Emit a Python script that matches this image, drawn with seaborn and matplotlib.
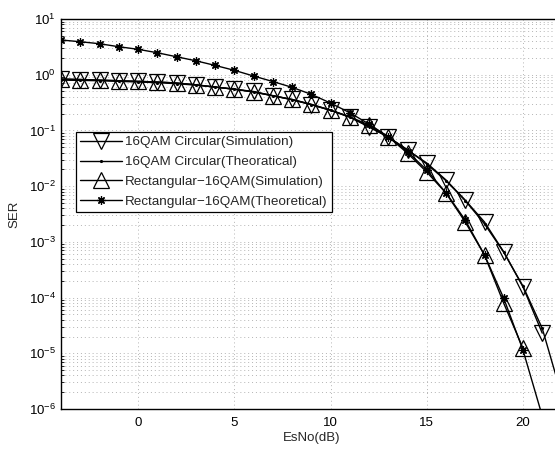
import numpy as np
import pandas as pd
import matplotlib
matplotlib.use("Agg")
import matplotlib.pyplot as plt
import seaborn as sns
from matplotlib.ticker import LogLocator, FixedLocator, NullFormatter

# ---- data ----
x_circ_sim = list(range(-4, 22))
circ_sim = [0.83, 0.82, 0.80, 0.78, 0.76, 0.74, 0.71, 0.66, 0.60, 0.55, 0.50, 0.42,
            0.36, 0.29, 0.23, 0.175, 0.115, 0.076, 0.0445, 0.026, 0.0129, 0.0056,
            0.00227, 6.6e-4, 1.55e-4, 2.3e-5]

x_circ_th = list(range(-4, 23))
circ_th = [0.80, 0.79, 0.78, 0.76, 0.74, 0.72, 0.69, 0.65, 0.60, 0.55, 0.49, 0.42,
           0.355, 0.29, 0.23, 0.172, 0.118, 0.076, 0.045, 0.025, 0.0125, 0.0055,
           0.0021, 6.5e-4, 1.6e-4, 2.8e-5, 1.8e-6]

x_rect_sim = list(range(-4, 21))
rect_sim = [0.84, 0.82, 0.80, 0.78, 0.76, 0.74, 0.71, 0.66, 0.60, 0.55, 0.49, 0.42,
            0.36, 0.295, 0.232, 0.176, 0.125, 0.077, 0.039, 0.0179, 0.0075, 0.00227,
            5.8e-4, 7.9e-5, 1.23e-5]

x_rect_th = list(range(-4, 23))
rect_th = [4.2, 3.91, 3.6, 3.18, 2.86, 2.48, 2.10, 1.78, 1.47, 1.20, 0.948, 0.755,
           0.594, 0.445, 0.310, 0.208, 0.130, 0.077, 0.0415, 0.0195, 0.0076, 0.00246,
           5.8e-4, 9.7e-5, 1.14e-5, 7.5e-7, 3e-8]

labels = ["16QAM Circular(Simulation)", "16QAM Circular(Theoratical)",
          "Rectangular\u221216QAM(Simulation)", "Rectangular\u221216QAM(Theoretical)"]
x_ticks = [0, 5, 10, 15, 20]

sns.set_theme(style="white")
plt.rcParams["font.family"] = ["Liberation Sans", "DejaVu Sans"]
plt.rcParams["mathtext.fontset"] = "custom"
plt.rcParams["mathtext.rm"] = "Liberation Sans"
plt.rcParams["mathtext.it"] = "Liberation Sans"

W, H = 555, 449
fig = plt.figure(figsize=(W / 100, H / 100), dpi=100)
fig.patch.set_facecolor("white")
left_px, top_px, bottom_px = 61, 19, 409
ppd = 19.25  # pixels per dB
xmin, xmax = -4, 22
ax = fig.add_axes([left_px / W, (H - bottom_px) / H, (xmax - xmin) * ppd / W,
                   (bottom_px - top_px) / H])

common = dict(color="black", linewidth=1.0, ax=ax)
sns.lineplot(x=x_circ_sim, y=circ_sim, marker="v", markersize=11,
             markerfacecolor="none", markeredgecolor="black", markeredgewidth=0.9,
             label=labels[0], **common)
sns.lineplot(x=x_circ_th, y=circ_th, marker=".", markersize=3,
             markeredgecolor="black", label=labels[1], **common)
sns.lineplot(x=x_rect_sim, y=rect_sim, marker="^", markersize=11,
             markerfacecolor="none", markeredgecolor="black", markeredgewidth=0.9,
             label=labels[2], **common)
sns.lineplot(x=x_rect_th, y=rect_th, marker=(8, 2, 0), markersize=6,
             markeredgecolor="black", markeredgewidth=0.9, label=labels[3], **common)

ax.set_yscale("log")
ax.set_xlim(xmin, xmax)
ax.set_ylim(1e-6, 1e1)
ax.xaxis.set_major_locator(FixedLocator(x_ticks))
ax.yaxis.set_major_locator(LogLocator(base=10, numticks=20))
ax.yaxis.set_minor_locator(LogLocator(base=10, subs=np.arange(2, 10), numticks=20))
ax.yaxis.set_minor_formatter(NullFormatter())

gridkw = dict(color="#b4b4b4", linestyle=(0, (1, 3)), linewidth=0.7)
ax.grid(True, which="major", axis="both", **gridkw)
ax.grid(True, which="minor", axis="y", **gridkw)

ax.tick_params(axis="both", which="both", direction="in", colors="black",
               labelsize=9.5, top=False, right=False)
ax.tick_params(axis="both", which="major", length=4, width=0.8)
ax.tick_params(axis="y", which="minor", length=2, width=0.6, left=True)
ax.tick_params(axis="x", which="major", pad=6)

for name, sp in ax.spines.items():
    sp.set_color("black")
    sp.set_linewidth(1.0)
ax.spines["right"].set_visible(False)

ax.set_xlabel("EsNo(dB)", fontsize=9.5, labelpad=2)
ax.set_ylabel("SER", fontsize=9.5, labelpad=6)

leg = ax.legend(loc="upper left", bbox_to_anchor=(76 / W, 1 - 132 / H),
                bbox_transform=fig.transFigure, borderaxespad=0, fancybox=False,
                framealpha=1, edgecolor="black", fontsize=9.7, handlelength=3.1,
                handletextpad=0.25, labelspacing=0.55, borderpad=0.3)
leg.get_frame().set_linewidth(0.9)

fig.savefig("out.png", dpi=100)
